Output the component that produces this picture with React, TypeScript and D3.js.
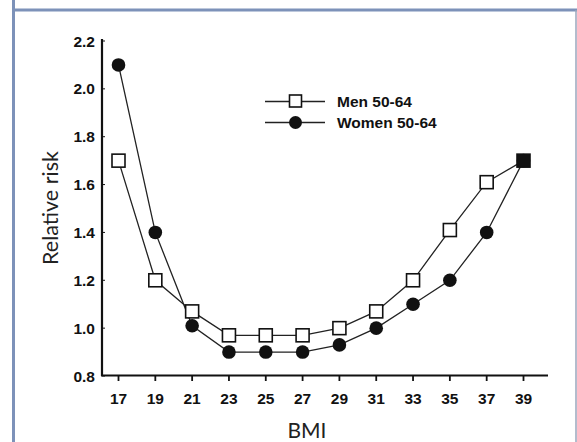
import React from "react";
import * as d3 from "d3";

const bmi = [17, 19, 21, 23, 25, 27, 29, 31, 33, 35, 37, 39];
const men = [1.7, 1.2, 1.07, 0.97, 0.97, 0.97, 1.0, 1.07, 1.2, 1.41, 1.61, 1.7];
const women = [2.1, 1.4, 1.01, 0.9, 0.9, 0.9, 0.93, 1.0, 1.1, 1.2, 1.4, 1.7];
const yTicks = [0.8, 1.0, 1.2, 1.4, 1.6, 1.8, 2.0, 2.2];
const seriesNames = ["Men 50-64", "Women 50-64"];

export default function App() {
  const W = 577, H = 442;
  const x = d3.scaleLinear().domain([17, 39]).range([118.5, 523.5]);
  const y = d3.scaleLinear().domain([0.8, 2.2]).range([376, 41]);
  const line = d3.line<[number, number]>().x((d) => x(d[0])).y((d) => y(d[1]));
  const menPts = bmi.map((b, i) => [b, men[i]] as [number, number]);
  const womenPts = bmi.map((b, i) => [b, women[i]] as [number, number]);
  const frame = "#7d92b9";
  const tickFont = "'Liberation Sans', Arial, sans-serif";
  const titleFont = "Lato, 'Open Sans', sans-serif";
  return (
    <svg width={W} height={H} style={{ position: "absolute", left: 0, top: 0, background: "#fff" }}>
      <rect x={0} y={0} width={W} height={H} fill="#fff" />
      {/* frame */}
      <line x1={13.5} y1={0} x2={13.5} y2={H} stroke={frame} strokeWidth={3} />
      <line x1={12} y1={10} x2={W} y2={10} stroke={frame} strokeWidth={3} />
      <line x1={576} y1={10} x2={576} y2={H} stroke="#9aa6bd" strokeWidth={1.5} />
      {/* axes */}
      <line x1={102} y1={39} x2={102} y2={376} stroke="#111" strokeWidth={2.2} />
      <line x1={101} y1={375.5} x2={548} y2={375.5} stroke="#111" strokeWidth={2.2} />
      {bmi.map((b) => (
        <g key={b}>
          <line x1={x(b)} x2={x(b)} y1={375} y2={381} stroke="#111" strokeWidth={1.8} />
          <text x={x(b)} y={404} textAnchor="middle" fontFamily={tickFont} fontWeight="bold" fontSize={15.5} fill="#111">
            {b}
          </text>
        </g>
      ))}
      {yTicks.map((t) => (
        <g key={t}>
          <line x1={102} x2={105} y1={y(t)} y2={y(t)} stroke="#111" strokeWidth={1} />
          <text x={95} y={y(t) + 5.5} textAnchor="end" fontFamily={tickFont} fontWeight="bold" fontSize={15.5} fill="#111">
            {t.toFixed(1)}
          </text>
        </g>
      ))}
      <text x={307} y={438} textAnchor="middle" fontFamily={titleFont} fontSize={21} fill="#222">BMI</text>
      <text transform="translate(58,208) rotate(-90)" textAnchor="middle" fontFamily={titleFont} fontSize={21.5} fill="#222">
        Relative risk
      </text>
      {/* lines */}
      <path d={line(menPts) || ""} fill="none" stroke="#222" strokeWidth={1.3} />
      <path d={line(womenPts) || ""} fill="none" stroke="#222" strokeWidth={1.3} />
      {womenPts.map((p, i) => (
        <circle key={"w" + i} cx={x(p[0])} cy={y(p[1])} r={6.8} fill="#111" />
      ))}
      {menPts.map((p, i) => (
        <rect
          key={"m" + i}
          x={x(p[0]) - 6.5}
          y={y(p[1]) - 6.5}
          width={13}
          height={13}
          fill={men[i] === women[i] ? "#111" : "#fff"}
          stroke="#111"
          strokeWidth={1.6}
        />
      ))}
      {/* legend */}
      <line x1={265} x2={325} y1={101.5} y2={101.5} stroke="#222" strokeWidth={1.3} />
      <rect x={289.5} y={95} width={12} height={12} fill="#fff" stroke="#111" strokeWidth={1.6} />
      <text x={337} y={107} fontFamily={tickFont} fontWeight="bold" fontSize={15.5} fill="#111">{seriesNames[0]}</text>
      <line x1={265} x2={325} y1={122.5} y2={122.5} stroke="#222" strokeWidth={1.3} />
      <circle cx={295.5} cy={122.5} r={6.5} fill="#111" />
      <text x={337} y={128} fontFamily={tickFont} fontWeight="bold" fontSize={15.5} fill="#111">{seriesNames[1]}</text>
    </svg>
  );
}
